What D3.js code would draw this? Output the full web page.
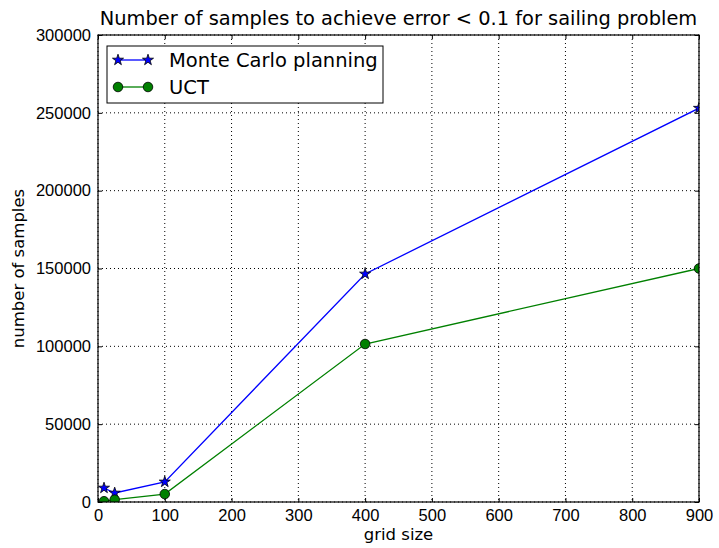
<!DOCTYPE html>
<html>
<head>
<meta charset="utf-8">
<script src="https://cdn.jsdelivr.net/npm/d3@7"></script>
<style>
  body { margin: 0; background: #fff; }
  svg { display: block; font-family: "DejaVu Sans", sans-serif; }
</style>
</head>
<body>
<div id="chart"></div>
<script>
// chart data
const gridSizes = [9, 25, 100, 400, 900];
const monteCarlo = [9000, 5800, 12900, 146500, 253000];
const uct = [500, 1500, 5100, 101500, 150000];
const xTicks = [0, 100, 200, 300, 400, 500, 600, 700, 800, 900];
const yTicks = [0, 50000, 100000, 150000, 200000, 250000, 300000];

const series = [
  { name: "Monte Carlo planning", values: monteCarlo, color: "#0000ff", marker: "star" },
  { name: "UCT", values: uct, color: "#008000", marker: "circle" },
];

const width = 719;
const height = 548;
const margin = { top: 35, right: 20, bottom: 46, left: 98 };
const plotW = width - margin.left - margin.right;
const plotH = height - margin.top - margin.bottom;

const svg = d3
  .select("#chart")
  .append("svg")
  .attr("width", width)
  .attr("height", height);

const x = d3.scaleLinear().domain([0, 900]).range([0, plotW]);
const y = d3.scaleLinear().domain([0, 300000]).range([plotH, 0]);

const g = svg
  .append("g")
  .attr("transform", `translate(${margin.left},${margin.top})`);

svg
  .append("defs")
  .append("clipPath")
  .attr("id", "plot-clip")
  .append("rect")
  .attr("width", plotW)
  .attr("height", plotH);

// grid lines
g.append("g")
  .selectAll("line")
  .data(xTicks)
  .join("line")
  .attr("x1", (d) => x(d))
  .attr("x2", (d) => x(d))
  .attr("y1", 0)
  .attr("y2", plotH)
  .attr("stroke", "#000")
  .attr("stroke-width", 1)
  .attr("stroke-dasharray", "1,3");

g.append("g")
  .selectAll("line")
  .data(yTicks)
  .join("line")
  .attr("x1", 0)
  .attr("x2", plotW)
  .attr("y1", (d) => y(d))
  .attr("y2", (d) => y(d))
  .attr("stroke", "#000")
  .attr("stroke-width", 1)
  .attr("stroke-dasharray", "1,3");

// inward ticks on all four sides
const tickLen = 4;
const xAxisB = d3.axisBottom(x).tickValues(xTicks).tickSize(-tickLen).tickPadding(7);
const xAxisT = d3.axisTop(x).tickValues(xTicks).tickSize(-tickLen).tickFormat("");
const yAxisL = d3.axisLeft(y).tickValues(yTicks).tickSize(-tickLen).tickPadding(7).tickFormat(d3.format("d"));
const yAxisR = d3.axisRight(y).tickValues(yTicks).tickSize(-tickLen).tickFormat("");

function styleAxis(sel) {
  sel.select(".domain").remove();
  sel.selectAll(".tick line").attr("stroke", "#000");
  sel.selectAll("text").attr("fill", "#000").style("font-size", "16.5px");
}

g.append("g").attr("transform", `translate(0,${plotH})`).call(xAxisB).call(styleAxis);
g.append("g").call(xAxisT).call(styleAxis);
g.append("g").call(yAxisL).call(styleAxis);
g.append("g").attr("transform", `translate(${plotW},0)`).call(yAxisR).call(styleAxis);

// lines and markers
const line = d3
  .line()
  .x((d, i) => x(gridSizes[i]))
  .y((d) => y(d));

const star = d3.symbol().type(d3.symbolStar).size(38);
const circle = d3.symbol().type(d3.symbolCircle).size(72);

const plot = g.append("g").attr("clip-path", "url(#plot-clip)");

series.forEach((s) => {
  plot
    .append("path")
    .datum(s.values)
    .attr("fill", "none")
    .attr("stroke", s.color)
    .attr("stroke-width", 1.3)
    .attr("d", line);

  plot
    .append("g")
    .selectAll("path")
    .data(s.values)
    .join("path")
    .attr("transform", (d, i) => `translate(${x(gridSizes[i])},${y(d)})`)
    .attr("d", s.marker === "star" ? star : circle)
    .attr("fill", s.color)
    .attr("stroke", "#000")
    .attr("stroke-width", 0.8);
});

// frame
g.append("rect")
  .attr("width", plotW)
  .attr("height", plotH)
  .attr("fill", "none")
  .attr("stroke", "#000")
  .attr("stroke-width", 1.2);

// legend
const legend = g.append("g").attr("transform", "translate(9,11)");
legend
  .append("rect")
  .attr("width", 276)
  .attr("height", 57)
  .attr("fill", "#fff")
  .attr("stroke", "#000")
  .attr("stroke-width", 1);

series.forEach((s, i) => {
  const row = legend.append("g").attr("transform", `translate(0,${14 + i * 27})`);
  row
    .append("line")
    .attr("x1", 11)
    .attr("x2", 41)
    .attr("stroke", s.color)
    .attr("stroke-width", 1.3);
  [11, 41].forEach((px) => {
    row
      .append("path")
      .attr("transform", `translate(${px},0)`)
      .attr("d", s.marker === "star" ? star : circle)
      .attr("fill", s.color)
      .attr("stroke", "#000")
      .attr("stroke-width", 0.8);
  });
  row
    .append("text")
    .attr("x", 62)
    .attr("dy", "0.35em")
    .style("font-size", "19.5px")
    .text(s.name);
});

// title and axis labels
svg
  .append("text")
  .attr("x", margin.left + plotW / 2)
  .attr("y", 25)
  .attr("text-anchor", "middle")
  .style("font-size", "19.4px")
  .text("Number of samples to achieve error < 0.1 for sailing problem");

svg
  .append("text")
  .attr("x", margin.left + plotW / 2)
  .attr("y", 540)
  .attr("text-anchor", "middle")
  .style("font-size", "16.5px")
  .text("grid size");

svg
  .append("text")
  .attr("transform", `translate(24,${margin.top + plotH / 2}) rotate(-90)`)
  .attr("text-anchor", "middle")
  .style("font-size", "16.5px")
  .text("number of samples");
</script>
</body>
</html>
